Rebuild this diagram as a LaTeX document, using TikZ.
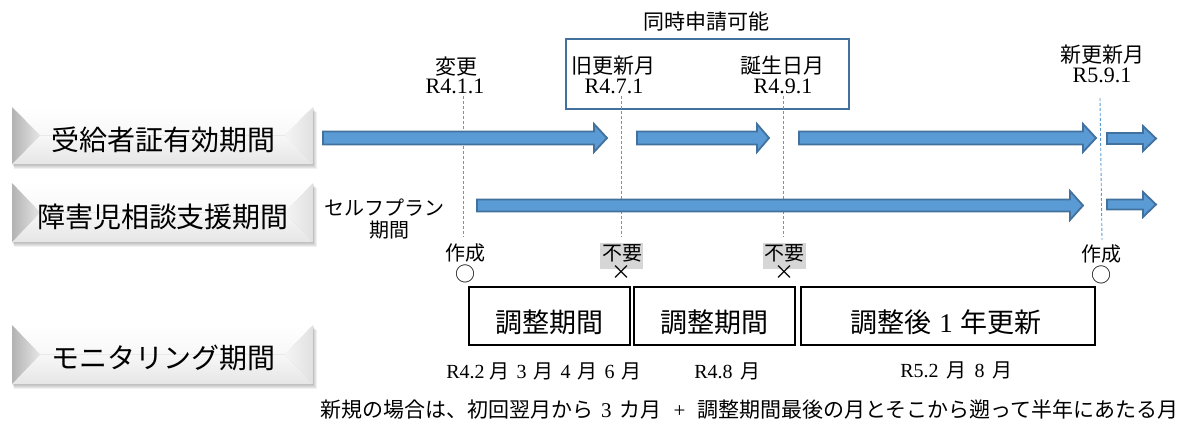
\documentclass[tikz,border=0pt]{standalone}
\usepackage{fontspec}
\setmainfont{Liberation Serif}
\newfontfamily\cjk{Noto Sans CJK JP}
\definecolor{arrowfill}{HTML}{5B9BD5}
\definecolor{arrowline}{HTML}{41719C}
\definecolor{dashblue}{HTML}{5B9BD5}
\definecolor{framebl}{HTML}{41719C}
\newcommand\blockarrow[6]{% x1, xtip, xhead, yc, shaft half, head half
  \filldraw[barrow] (#1,#4-#5) -- (#3,#4-#5) -- (#3,#4-#6) -- (#2,#4) -- (#3,#4+#6) -- (#3,#4+#5) -- (#1,#4+#5) -- cycle;}
\begin{document}
\begin{tikzpicture}[x=1pt,y=-1pt,
  lbl/.style={inner sep=0pt, anchor=center},
  jp/.style={font=\cjk\fontsize{#1}{#1}\selectfont},
  lat/.style={font=\fontsize{#1}{#1}\selectfont},
  barrow/.style={fill=arrowfill, draw=arrowline, line width=1.8pt, line join=miter},
  dashln/.style={draw=dashblue, line width=0.9pt, dash pattern=on 3pt off 2pt},
  pbox/.style={draw=black, line width=1.8pt, minimum width=#1, minimum height=58pt, inner sep=0pt},
  graytag/.style={fill=black!16}
]
\useasboundingbox (0,0) rectangle (1189,423);

% ---- bevel label boxes ----
\foreach \t/\b in {107/164, 183/242, 325/384} {
  \pgfmathsetmacro\m{(\t+\b)/2}
  \foreach \i in {1,...,5} {
    \fill[black,opacity=0.06] (12+\i*0.4,\t+\i) rectangle (313+\i*0.7,\b+\i*0.9);
  }
  \shade[top color=white, bottom color=black!3] (12,\t) -- (313,\t) -- (285,\m) -- (40,\m) -- cycle;
  \shade[top color=black!3, bottom color=black!10] (40,\m) -- (285,\m) -- (313,\b) -- (12,\b) -- cycle;
  \shade[left color=black!30, right color=black!10] (12,\t) -- (40,\m) -- (12,\b) -- cycle;
  \shade[left color=black!4, right color=black!12] (313,\t) -- (285,\m) -- (313,\b) -- cycle;
}
\node[lbl, jp=28] (l1) at (163,140) {受給者証有効期間};
\node[lbl, jp=28] (l2) at (163,217) {障害児相談支援期間};
\node[lbl, jp=28] (l3) at (163,358) {モニタリング期間};

% ---- top frame ----
\draw[draw=framebl, line width=1.8pt] (566,39) rectangle (849,109);
\node[lbl, jp=21] (simul) at (706,21.5) {同時申請可能};

% ---- date labels ----
\node[lbl, jp=21] (c1a) at (456,66.5) {変更};
\node[lbl, lat=22] (c1b) at (455,86.5) {R4.1.1};
\node[lbl, jp=21] (c2a) at (613,65.5) {旧更新月};
\node[lbl, lat=22] (c2b) at (614,86) {R4.7.1};
\node[lbl, jp=21] (c3a) at (782,65.5) {誕生日月};
\node[lbl, lat=22] (c3b) at (783,86) {R4.9.1};
\node[lbl, jp=21] (c4a) at (1102,55) {新更新月};
\node[lbl, lat=22] (c4b) at (1102,75.5) {R5.9.1};

% ---- dashed lines ----
\coordinate (d1t) at (463,96);  \coordinate (d1b) at (463,237);
\coordinate (d2t) at (621,96);  \coordinate (d2b) at (621,237);
\coordinate (d3t) at (783,96);  \coordinate (d3b) at (783,237);
\coordinate (d4t) at (1100,98); \coordinate (d4b) at (1102,240);
\draw[dashln] (d1t) -- (d1b);
\draw[dashln] (d2t) -- (d2b);
\draw[dashln] (d3t) -- (d3b);
\draw[dashln] (d4t) -- (d4b);

% ---- arrows ----
\blockarrow{323}{607}{594}{138}{6.5}{14}
\blockarrow{637}{769}{757}{138}{6.5}{14}
\blockarrow{799}{1096}{1083}{138}{6.5}{14}
\blockarrow{1107}{1156}{1143}{138.5}{5.5}{12.5}
\blockarrow{477}{1083}{1070}{205.5}{6}{14.5}
\blockarrow{1107}{1156}{1143}{204.5}{5}{12.5}

\node[lbl, jp=20] (self1) at (384,208) {セルフプラン};
\node[lbl, jp=20] (self2) at (389,230.5) {期間};

% ---- markers ----
\node[lbl, jp=20] (m1) at (465,252.5) {作成};
\node[lbl, jp=20] (o1) at (465,273.5) {○};
\fill[graytag] (600,243) rectangle (643,269);
\node[lbl, jp=20] (m2) at (622,253.5) {不要};
\node[lbl, jp=20] (x2) at (621,273) {×};
\fill[graytag] (763,243) rectangle (806,269);
\node[lbl, jp=20] (m3) at (784.5,253.5) {不要};
\node[lbl, jp=20] (x3) at (784,273) {×};
\node[lbl, jp=20] (m4) at (1101,254) {作成};
\node[lbl, jp=20] (o4) at (1101,275) {○};

% ---- period boxes ----
\node[pbox=161pt] (b1) at (549.5,316) {};
\node[pbox=161pt] (b2) at (714.5,316) {};
\node[pbox=294pt] (b3) at (948,316) {};
\node[lbl, jp=27] (t1) at (549.5,322) {調整期間};
\node[lbl, jp=27] (t2) at (714.5,322) {調整期間};
\node[lbl, jp=27] (t3) at (946,322) {調整後\hspace{8pt}{\fontspec{Liberation Serif}1}\hspace{8pt}年更新};

% ---- month labels ----
\node[lbl, lat=20] (r1) at (544,371.5) {R4.2\hspace{5pt}{\cjk 月}\hspace{7pt}3\hspace{7pt}{\cjk 月}\hspace{7pt}4\hspace{7pt}{\cjk 月}\hspace{7pt}6\hspace{7pt}{\cjk 月}};
\node[lbl, lat=20] (r2) at (727.5,371.5) {R4.8\hspace{8pt}{\cjk 月}};
\node[lbl, lat=20] (r3) at (956.5,370) {R5.2\hspace{8pt}{\cjk 月}\hspace{8pt}8\hspace{8pt}{\cjk 月}};

% ---- note ----
\node[lbl, anchor=west, jp=21] (note) at (320,410) {新規の場合は、初回翌月から\hspace{8pt}{\fontspec{Liberation Serif}3}\hspace{8pt}カ月\hspace{12pt}{\fontspec{Liberation Serif}+}\hspace{12pt}調整期間最後の月とそこから遡って半年にあたる月};
\end{tikzpicture}
\end{document}
